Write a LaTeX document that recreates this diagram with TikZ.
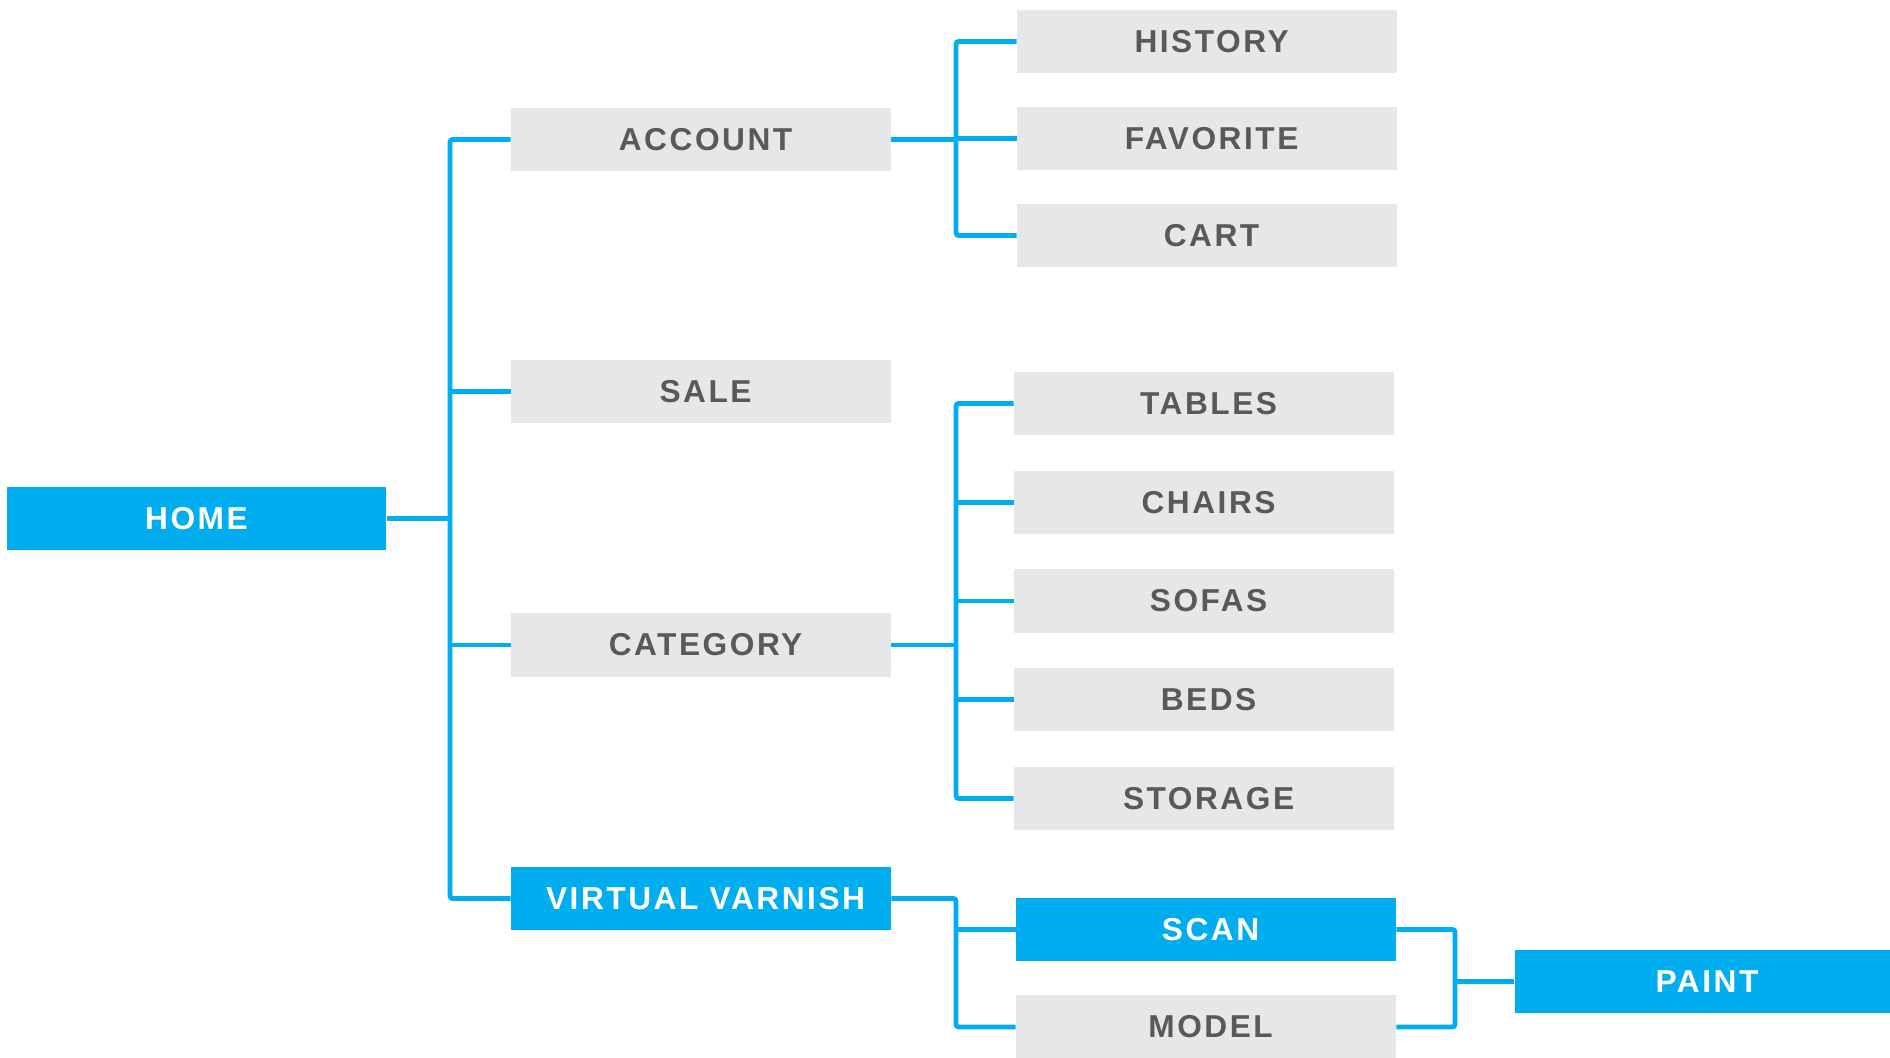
\documentclass[tikz,border=0pt]{standalone}
\usepackage{fontspec}
\usepackage{tikz}
\usetikzlibrary{positioning}
\newfontfamily\menufont[LetterSpace=8]{Liberation Sans}
\definecolor{siteBlue}{HTML}{00AEEF}
\definecolor{siteGray}{HTML}{E6E7E8}
\definecolor{siteText}{HTML}{58595B}

\begin{document}
\begin{tikzpicture}[
    x=0.01cm, y=-0.01cm,
    basebox/.style={
        fill=siteGray, text=siteText,
        minimum width=3.79cm, minimum height=0.63cm, inner sep=0pt,
        font=\menufont\fontsize{9}{10}\selectfont\bfseries
    },
    pagebox/.style={basebox, execute at begin node=\hspace*{2.6pt}},
    mainbox/.style={pagebox, fill=siteBlue, text=white},
    homebox/.style={basebox, fill=siteBlue, text=white},
    link/.style={draw=siteBlue, line width=1.4pt, rounded corners=0.8pt},
]
\useasboundingbox (0,0) rectangle (1890,1057);

%% =================================================================
%% Home and first level
%% =================================================================
\node[homebox] (home) at (196.5, 518.5) {HOME};

\node[pagebox] (acct) at (701, 139.5) {ACCOUNT};
\node[pagebox] (sale) at (701, 391.5) {SALE};
\node[pagebox] (cat)  at (701, 645)   {CATEGORY};
\node[mainbox] (vv)   at (701, 898.5) {VIRTUAL VARNISH};

\coordinate (trunk) at (450, 0);

%% Home -> first level
\draw[link] (home.east) -- (home.east -| trunk);
\draw[link] (acct.west) -| (trunk |- vv.west) -- (vv.west);
\draw[link] (sale.west) -- (sale.west -| trunk);
\draw[link] (cat.west) -- (cat.west -| trunk);

%% =================================================================
%% Second level
%% =================================================================
\node[pagebox] (hist) at (1207, 41.5)  {HISTORY};
\node[pagebox] (fav)  at (1207, 138.5) {FAVORITE};
\node[pagebox] (cart) at (1207, 235.5) {CART};

\node[pagebox] (tables) at (1204, 403.5) {TABLES};
\node[pagebox] (chairs) at (1204, 502.5) {CHAIRS};
\node[pagebox] (sofas)  at (1204, 601)   {SOFAS};
\node[pagebox] (beds)   at (1204, 699.5) {BEDS};
\node[pagebox] (store)  at (1204, 798.5) {STORAGE};

\node[mainbox] (scan)  at (1206, 929.5) {SCAN};
\node[pagebox] (model) at (1206, 1027)  {MODEL};

\coordinate (fork) at (956, 0);

%% Account -> children
\draw[link] (acct.east) -- (acct.east -| fork);
\draw[link] (hist.west) -| (fork |- cart.west) -- (cart.west);
\draw[link] (fav.west) -- (fav.west -| fork);

%% Category -> children
\draw[link] (cat.east) -- (cat.east -| fork);
\draw[link] (tables.west) -| (fork |- store.west) -- (store.west);
\draw[link] (chairs.west) -- (chairs.west -| fork);
\draw[link] (sofas.west) -- (sofas.west -| fork);
\draw[link] (beds.west) -- (beds.west -| fork);

%% Virtual varnish -> children
\draw[link] (vv.east) -| (fork |- model.west) -- (model.west);
\draw[link] (scan.west) -- (scan.west -| fork);

%% =================================================================
%% Third level
%% =================================================================
\node[mainbox, minimum width=3.75cm] (paint) at (1702.5, 981.5) {PAINT};

\coordinate (pfork) at (1455, 0);

\draw[link] (scan.east) -| (pfork |- model.east) -- (model.east);
\draw[link] (paint.west) -- (paint.west -| pfork);

\end{tikzpicture}
\end{document}
